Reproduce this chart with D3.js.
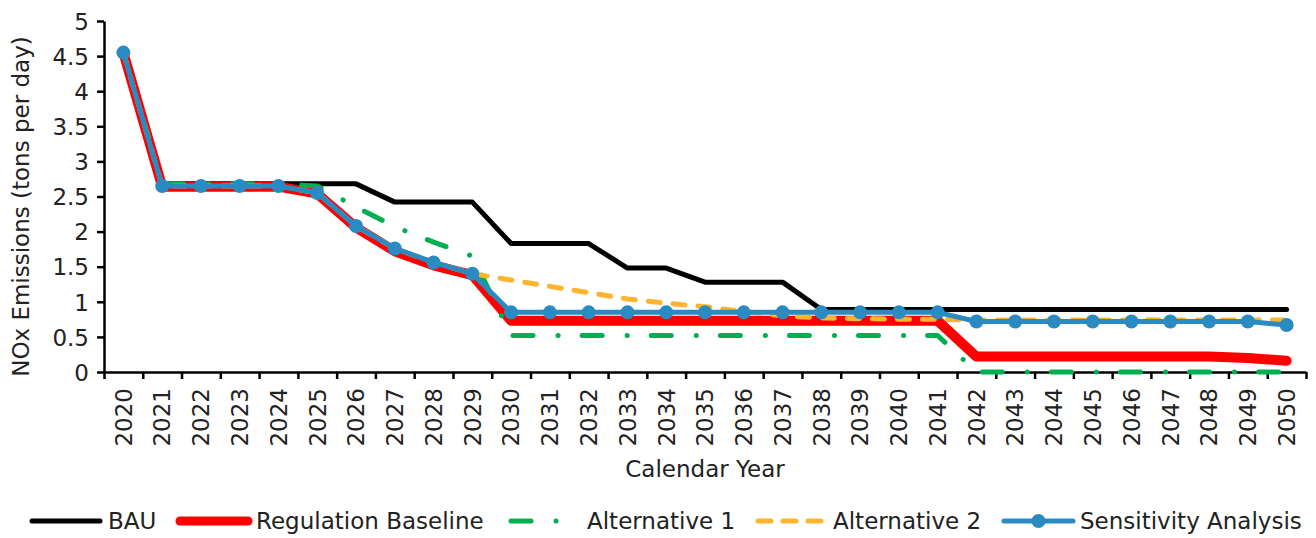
<!DOCTYPE html>
<html>
<head>
<meta charset="utf-8">
<script src="https://cdn.jsdelivr.net/npm/d3@7"></script>
<style>
  html, body { margin: 0; padding: 0; background: #fff; }
  svg { display: block; }
  text { font-family: "DejaVu Sans", sans-serif; fill: #222; }
</style>
</head>
<body>
<svg id="chart" width="1316" height="538"></svg>
<script>
const years = ["2020","2021","2022","2023","2024","2025","2026","2027","2028","2029",
  "2030","2031","2032","2033","2034","2035","2036","2037","2038","2039",
  "2040","2041","2042","2043","2044","2045","2046","2047","2048","2049","2050"];

const bau = [4.55, 2.68, 2.68, 2.68, 2.68, 2.68, 2.68, 2.42, 2.42, 2.42,
  1.83, 1.83, 1.83, 1.48, 1.48, 1.28, 1.28, 1.28, 0.89, 0.89,
  0.89, 0.89, 0.89, 0.89, 0.89, 0.89, 0.89, 0.89, 0.89, 0.89, 0.89];

const regBaseline = [4.55, 2.64, 2.64, 2.64, 2.64, 2.54, 2.06, 1.72, 1.52, 1.38,
  0.73, 0.73, 0.73, 0.73, 0.73, 0.73, 0.73, 0.73, 0.73, 0.73,
  0.73, 0.73, 0.22, 0.22, 0.22, 0.22, 0.22, 0.22, 0.22, 0.20, 0.16];

const alternative1 = [4.55, 2.68, 2.68, 2.68, 2.68, 2.65, 2.35, 2.07, 1.85, 1.65,
  0.52, 0.52, 0.52, 0.52, 0.52, 0.52, 0.52, 0.52, 0.52, 0.52,
  0.52, 0.52, 0, 0, 0, 0, 0, 0, 0, 0, 0];

const alternative2 = [4.55, 2.65, 2.65, 2.65, 2.65, 2.55, 2.08, 1.76, 1.56, 1.40,
  1.31, 1.22, 1.13, 1.04, 0.98, 0.93, 0.86, 0.80, 0.77, 0.76,
  0.75, 0.75, 0.74, 0.74, 0.74, 0.74, 0.74, 0.74, 0.74, 0.74, 0.74];

const sensitivity = [4.55, 2.65, 2.65, 2.65, 2.65, 2.55, 2.08, 1.76, 1.56, 1.40,
  0.85, 0.85, 0.85, 0.85, 0.85, 0.85, 0.85, 0.85, 0.85, 0.85,
  0.85, 0.85, 0.72, 0.72, 0.72, 0.72, 0.72, 0.72, 0.72, 0.72, 0.67];

const yTicks = [0, 0.5, 1, 1.5, 2, 2.5, 3, 3.5, 4, 4.5, 5];

const seriesNames = ["BAU", "Regulation Baseline", "Alternative 1", "Alternative 2", "Sensitivity Analysis"];

const svg = d3.select("#chart");
const plotLeft = 104, plotRight = 1306, plotTop = 21, plotBottom = 372;

const x = d3.scaleBand().domain(years).range([plotLeft, plotRight]).padding(0);
const xEdge = d3.scaleLinear().domain([0, years.length]).range([plotLeft, plotRight]);
const y = d3.scaleLinear().domain([0, 5]).range([plotBottom, plotTop]);
const cx = d => x(d) + x.bandwidth() / 2;

// Y axis
const yAxis = svg.append("g")
  .attr("transform", `translate(${plotLeft},0)`)
  .call(d3.axisLeft(y).tickValues(yTicks).tickFormat(d3.format("")).tickSize(7).tickPadding(8).tickSizeOuter(0));
yAxis.select(".domain").attr("stroke", "#000").attr("stroke-width", 2.5);
yAxis.selectAll(".tick line").attr("stroke", "#000").attr("stroke-width", 2.5);
yAxis.selectAll(".tick text").style("font-size", "23px").attr("fill", "#222").attr("dy", "0.36em");

// X axis: boundary tick marks
const xTickAxis = svg.append("g")
  .attr("transform", `translate(0,${plotBottom})`)
  .call(d3.axisBottom(xEdge).tickValues(d3.range(0, years.length + 1)).tickFormat("").tickSize(7).tickSizeOuter(0));
xTickAxis.select(".domain").attr("stroke", "#000").attr("stroke-width", 2.5);
xTickAxis.selectAll(".tick line").attr("stroke", "#000").attr("stroke-width", 2.5);

// X axis labels (rotated)
const xLabelAxis = svg.append("g")
  .attr("transform", `translate(0,${plotBottom})`)
  .call(d3.axisBottom(x).tickSize(0).tickSizeOuter(0));
xLabelAxis.select(".domain").remove();
xLabelAxis.selectAll(".tick text")
  .style("font-size", "23px")
  .attr("fill", "#222")
  .attr("text-anchor", "end")
  .attr("transform", "rotate(-90)")
  .attr("x", -16)
  .attr("y", 0)
  .attr("dy", "0.36em");

// Axis titles
svg.append("text")
  .attr("x", (plotLeft + plotRight) / 2)
  .attr("y", 477)
  .attr("text-anchor", "middle")
  .style("font-size", "23px")
  .text("Calendar Year");

svg.append("text")
  .attr("transform", `translate(29,${(plotTop + plotBottom) / 2 + 10}) rotate(-90)`)
  .attr("text-anchor", "middle")
  .style("font-size", "23px")
  .text("NOx Emissions (tons per day)");

// Lines
const line = d3.line().x((d, i) => cx(years[i])).y(d => y(d));

const styles = [
  { data: bau, color: "#000000", width: 5, dash: null },
  { data: regBaseline, color: "#ff0000", width: 10, dash: null },
  { data: alternative1, color: "#00b050", width: 5, dash: "20 25 0.1 24" },
  { data: alternative2, color: "#fdb52e", width: 5, dash: "12 13" },
  { data: sensitivity, color: "#2a8bc3", width: 5, dash: null }
];

styles.forEach(s => {
  svg.append("path")
    .datum(s.data)
    .attr("d", line)
    .attr("fill", "none")
    .attr("stroke", s.color)
    .attr("stroke-width", s.width)
    .attr("stroke-linejoin", "round")
    .attr("stroke-linecap", "round")
    .attr("stroke-dasharray", s.dash);
});

svg.append("g").selectAll("circle")
  .data(sensitivity)
  .join("circle")
  .attr("cx", (d, i) => cx(years[i]))
  .attr("cy", d => y(d))
  .attr("r", 7)
  .attr("fill", "#2a8bc3");

// Legend
const legendY = 521;
const legendItems = [
  { name: seriesNames[0], x0: 32, x1: 100, tx: 108, s: styles[0], dash: null },
  { name: seriesNames[1], x0: 180, x1: 248, tx: 256, s: styles[1], dash: null },
  { name: seriesNames[2], x0: 511, x1: 557, tx: 587, s: styles[2], dash: "20 25 0.1 200" },
  { name: seriesNames[3], x0: 758, x1: 822, tx: 833, s: styles[3], dash: "13 12" },
  { name: seriesNames[4], x0: 1004, x1: 1073, tx: 1080, s: styles[4], dash: null, marker: true }
];
const lg = svg.append("g");
legendItems.forEach(it => {
  lg.append("line")
    .attr("x1", it.x0).attr("x2", it.x1)
    .attr("y1", legendY).attr("y2", legendY)
    .attr("stroke", it.s.color)
    .attr("stroke-width", it.s.width === 10 ? 9 : it.s.width)
    .attr("stroke-linecap", "round")
    .attr("stroke-dasharray", it.dash);
  if (it.marker) {
    lg.append("circle").attr("cx", (it.x0 + it.x1) / 2).attr("cy", legendY).attr("r", 7).attr("fill", it.s.color);
  }
  lg.append("text")
    .attr("x", it.tx).attr("y", legendY).attr("dy", "0.36em")
    .style("font-size", "23px")
    .text(it.name);
});
</script>
</body>
</html>
